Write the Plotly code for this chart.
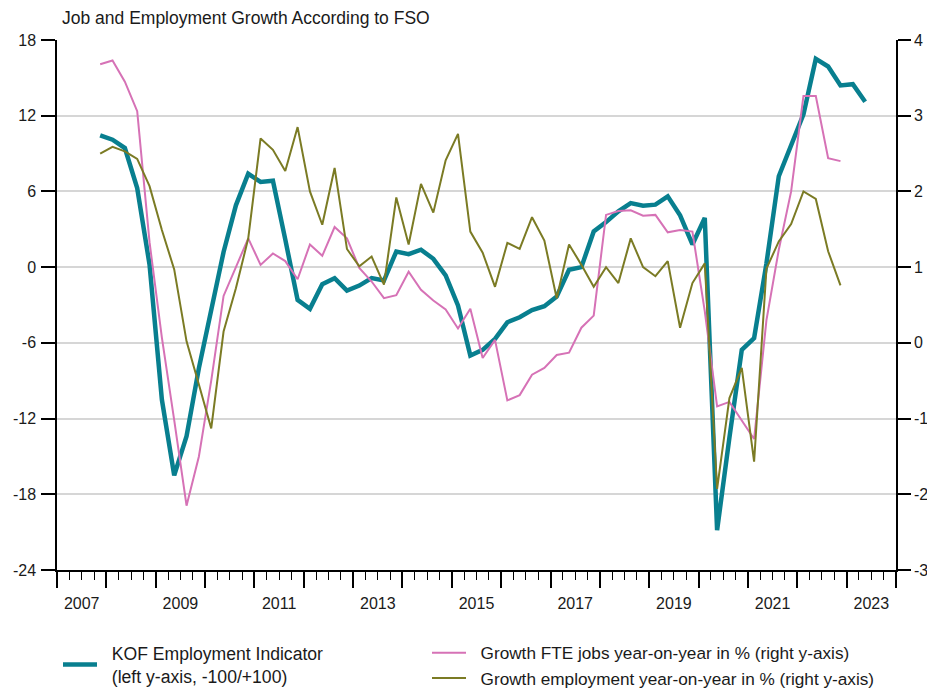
import plotly.graph_objects as go

# Quarterly dates (mid-quarter, decimal years), 2007 Q4 .. 2023 Q2
start_year = 2007
start_quarter = 4

kof = [10.45, 10.1, 9.44, 6.27, 0.2, -10.5, -16.5, -13.4, -8.0, -3.5,
       1.2, 4.9, 7.4, 6.75, 6.85, 2.2, -2.6, -3.3, -1.35, -0.87,
       -1.85, -1.46, -0.87, -1.06, 1.24, 1.03, 1.38, 0.66, -0.66, -3.04,
       -7.0, -6.56, -5.69, -4.37, -3.97, -3.41, -3.1, -2.33, -0.21, 0.0,
       2.83, 3.57, 4.42, 5.08, 4.87, 4.95, 5.61, 4.1, 1.8, 3.9,
       -20.85, -13.5, -6.56, -5.63, 0.3, 7.2, 9.7, 12.1, 16.5, 15.9,
       14.4, 14.5, 13.1]

fte_growth = [3.68, 3.73, 3.45, 3.06, 1.33, 0.07, -1.02, -2.15, -1.50, -0.50,
              0.62, 1.01, 1.38, 1.03, 1.18, 1.08, 0.84, 1.30, 1.15, 1.53,
              1.38, 0.99, 0.81, 0.59, 0.63, 0.94, 0.70, 0.56, 0.44, 0.19,
              0.45, -0.20, 0.04, -0.76, -0.69, -0.42, -0.33, -0.16, -0.13, 0.20,
              0.36, 1.69, 1.74, 1.75, 1.68, 1.69, 1.46, 1.49, 1.47, 0.42,
              -0.84, -0.78, -1.02, -1.27, 0.30, 1.23, 2.00, 3.26, 3.26, 2.44,
              2.40]

emp_growth = [2.50, 2.59, 2.53, 2.43, 2.07, 1.49, 0.97, 0.02, -0.55, -1.13,
              0.15, 0.72, 1.38, 2.70, 2.55, 2.27, 2.85, 2.00, 1.56, 2.31,
              1.24, 1.01, 1.14, 0.77, 1.92, 1.30, 2.10, 1.72, 2.41, 2.76,
              1.47, 1.19, 0.74, 1.32, 1.24, 1.66, 1.35, 0.59, 1.30, 1.03,
              0.74, 1.00, 0.79, 1.38, 1.00, 0.88, 1.08, 0.20, 0.79, 1.05,
              -1.93, -0.73, -0.33, -1.57, 0.98, 1.34, 1.57, 2.00, 1.90, 1.21,
              0.76]

year_labels = ["2007", "2009", "2011", "2013", "2015", "2017", "2019", "2021", "2023"]
left_ticks = [18, 12, 6, 0, -6, -12, -18, -24]
right_ticks = [4, 3, 2, 1, 0, -1, -2, -3]


def qdates(n):
    return [start_year + (start_quarter - 1) * 0.25 + 0.125 + 0.25 * i for i in range(n)]


TEAL = "#087f8f"
PINK = "#d672b6"
OLIVE = "#7b7b24"
FONT = "Liberation Sans, Arial, sans-serif"
TXT = "#1a1a1a"
NB = "\u00a0\u00a0"

W, H = 927, 680  # page body adds an 8px offset

fig = go.Figure()
fig.add_trace(go.Scatter(
    x=qdates(len(kof)), y=kof, mode="lines",
    name=NB + "KOF Employment Indicator<br>" + NB + "(left y-axis, -100/+100)",
    line=dict(color=TEAL, width=4.5), legend="legend", yaxis="y"))
fig.add_trace(go.Scatter(
    x=qdates(len(fte_growth)), y=fte_growth, mode="lines",
    name=NB + "Growth FTE jobs year-on-year in % (right y-axis)",
    line=dict(color=PINK, width=2), legend="legend2", yaxis="y2"))
fig.add_trace(go.Scatter(
    x=qdates(len(emp_growth)), y=emp_growth, mode="lines",
    name=NB + "Growth employment year-on-year in % (right y-axis)",
    line=dict(color=OLIVE, width=2), legend="legend2", yaxis="y2"))
# empty trace so the label axis is drawn
fig.add_trace(go.Scatter(x=[None], y=[None], xaxis="x2", yaxis="y",
                         showlegend=False, hoverinfo="skip"))

year_ticks = list(range(2007, 2025))
label_pos = [int(y) + 0.5 for y in year_labels]

fig.update_layout(
    width=W, height=H,
    margin=dict(l=49, r=39, t=32, b=118, autoexpand=False),
    paper_bgcolor="white", plot_bgcolor="white",
    font=dict(family=FONT, size=16, color=TXT),
    title=dict(text="Job and Employment Growth According to FSO",
               x=54 / W, xanchor="left", xref="container",
               y=1 - 10 / H, yanchor="middle", yref="container",
               font=dict(family=FONT, size=17.5, color=TXT)),
    xaxis=dict(range=[2007, 2024], tickmode="array", tickvals=year_ticks,
               ticktext=["" for _ in year_ticks], ticks="outside", ticklen=16,
               tickwidth=1.5, tickcolor="black", showgrid=False, zeroline=False,
               showline=True, linecolor="black", linewidth=1.5,
               automargin=False,
               minor=dict(tickmode="linear", tick0=2007, dtick=0.25,
                          ticks="outside", ticklen=8, tickwidth=1,
                          tickcolor="black", showgrid=False),
               fixedrange=True),
    xaxis2=dict(range=[2007, 2024], overlaying="x", anchor="y", side="bottom",
                tickmode="array", tickvals=label_pos, ticktext=year_labels,
                ticks="", showgrid=False, zeroline=False, showline=False,
                ticklabelstandoff=22, automargin=False,
                tickfont=dict(family=FONT, size=16, color=TXT)),
    yaxis=dict(range=[-24, 18], tickmode="array", tickvals=left_ticks,
               ticktext=[str(v) for v in left_ticks],
               ticks="outside", ticklen=14, tickwidth=1.5, tickcolor="black",
               showgrid=True, gridcolor="#d6d6d6", gridwidth=1.5,
               zeroline=False, showline=True, linecolor="black", linewidth=1.5,
               automargin=False, ticklabelstandoff=2,
               tickfont=dict(family=FONT, size=16, color=TXT)),
    yaxis2=dict(range=[-3, 4], tickmode="array", tickvals=right_ticks,
                ticktext=[str(v) for v in right_ticks],
                overlaying="y", side="right", anchor="x",
                ticks="outside", ticklen=13, tickwidth=1.5, tickcolor="black",
                showgrid=False, zeroline=False, showline=True,
                linecolor="black", linewidth=1.5, automargin=False,
                ticklabelstandoff=0,
                tickfont=dict(family=FONT, size=16, color=TXT)),
    legend=dict(x=50 / W, xanchor="left", xref="container",
                y=1 - 627 / H, yanchor="top", yref="container",
                bgcolor="rgba(0,0,0,0)", borderwidth=0, itemwidth=34,
                font=dict(family=FONT, size=17.6, color=TXT)),
    legend2=dict(x=419 / W, xanchor="left", xref="container",
                 y=1 - 627 / H, yanchor="top", yref="container",
                 bgcolor="rgba(0,0,0,0)", borderwidth=0, itemwidth=34,
                 tracegroupgap=0,
                 font=dict(family=FONT, size=17.2, color=TXT)),
)

fig.write_html("out.html")
